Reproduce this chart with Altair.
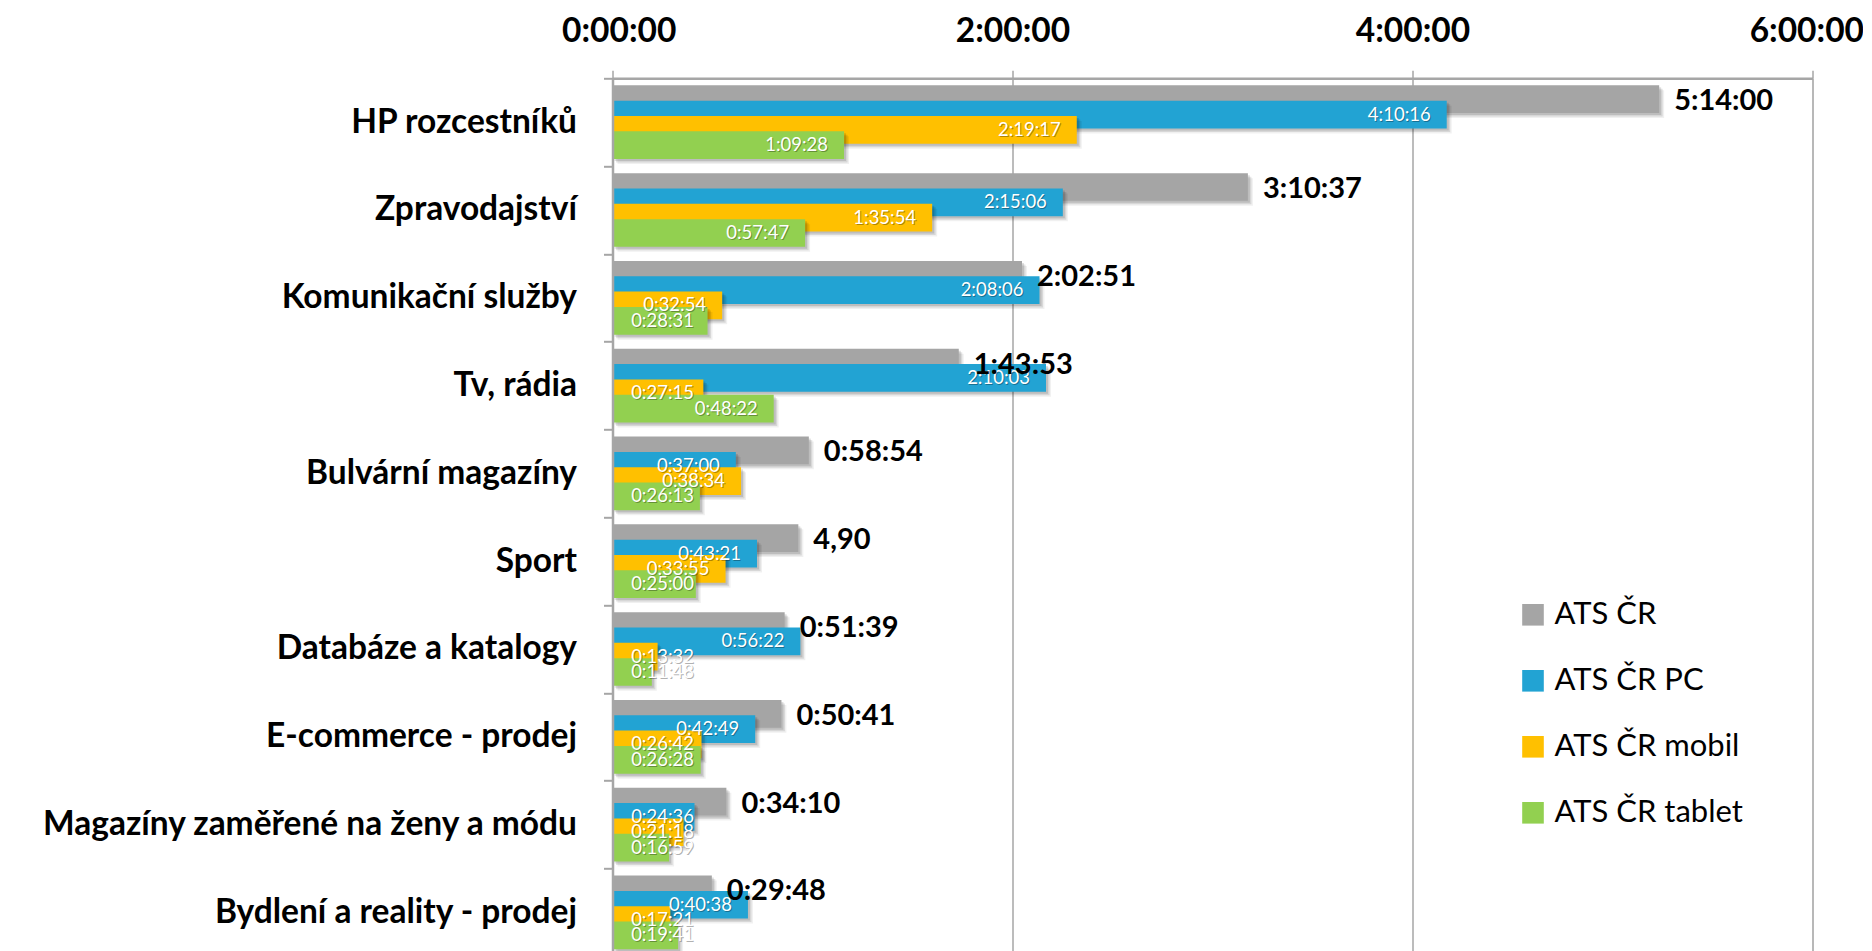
import altair as alt
import pandas as pd

categories = [
    "HP rozcestníků", "Zpravodajství", "Komunikační služby", "Tv, rádia",
    "Bulvární magazíny", "Sport", "Databáze a katalogy", "E-commerce - prodej",
    "Magazíny zaměřené na ženy a módu", "Bydlení a reality - prodej",
]
series = ["ATS ČR", "ATS ČR PC", "ATS ČR mobil", "ATS ČR tablet"]
colors = ["#A5A5A5", "#22A3D3", "#FFC000", "#92D050"]

ats_cr = ["5:14:00", "3:10:37", "2:02:51", "1:43:53", "0:58:54",
          "0:55:45", "0:51:39", "0:50:41", "0:34:10", "0:29:48"]
ats_cr_labels = ["5:14:00", "3:10:37", "2:02:51", "1:43:53", "0:58:54",
                 "4,90", "0:51:39", "0:50:41", "0:34:10", "0:29:48"]
ats_pc = ["4:10:16", "2:15:06", "2:08:06", "2:10:03", "0:37:00",
          "0:43:21", "0:56:22", "0:42:49", "0:24:36", "0:40:38"]
ats_mobil = ["2:19:17", "1:35:54", "0:32:54", "0:27:15", "0:38:34",
             "0:33:55", "0:13:32", "0:26:42", "0:21:18", "0:17:21"]
ats_tablet = ["1:09:28", "0:57:47", "0:28:31", "0:48:22", "0:26:13",
              "0:25:00", "0:11:48", "0:26:28", "0:16:59", "0:19:41"]

tick_values = [0, 120, 240, 360]


def to_min(s):
    h, m, sec = (int(p) for p in s.split(":"))
    return h * 60 + m + sec / 60


rows = []
for vals, labs, s in [(ats_cr, ats_cr_labels, series[0]), (ats_pc, ats_pc, series[1]),
                      (ats_mobil, ats_mobil, series[2]), (ats_tablet, ats_tablet, series[3])]:
    for c, v, l in zip(categories, vals, labs):
        rows.append({"category": c, "series": s, "value": to_min(v), "label": l})
df = pd.DataFrame(rows)

BAR_H = 27.7
offsets = [-23.0, -7.65, 7.65, 23.0]
FONT = "Lato"

x_axis = alt.Axis(
    orient="top", values=tick_values, labelExpr="floor(datum.value/60) + ':00:00'",
    labelFont=FONT, labelFontWeight="bold", labelFontSize=33.5, labelColor="black",
    labelBaseline="alphabetic", labelFlush=True, labelFlushOffset=51, labelPadding=29,
    tickSize=8, tickColor="#A6A6A6",
    tickWidth=1.5, domainColor="#A6A6A6", domainWidth=2.5, grid=True,
    gridColor="#A6A6A6", gridWidth=1.5, title=None,
)
y_axis = alt.Axis(
    labelFont=FONT, labelFontWeight="bold", labelFontSize=33.5, labelColor="black",
    labelPadding=27, labelLimit=800, tickSize=9, tickColor="#A6A6A6", tickWidth=2,
    tickBand="extent", domainColor="#A6A6A6", domainWidth=2.5, title=None, zindex=1,
)
x_scale = alt.Scale(domain=[0, 360], nice=False, zero=True)

X = alt.X("value:Q", scale=x_scale, axis=x_axis)
XL = alt.X("lx:Q", scale=x_scale, axis=x_axis)
Y = alt.Y("category:N", sort=categories, scale=alt.Scale(paddingInner=0, paddingOuter=0), axis=y_axis)
color = alt.Color(
    "series:N", scale=alt.Scale(domain=series, range=colors),
    legend=alt.Legend(
        title=None, orient="none", legendX=905, legendY=521, direction="vertical",
        symbolType="square", symbolSize=467, symbolStrokeWidth=0, labelFont=FONT,
        labelFontSize=31, labelColor="black", labelOffset=6, rowPadding=34, padding=0,
        labelLimit=500,
    ),
)

base = alt.Chart(df)
layers = []
for j, s in enumerate(series):
    sub = base.transform_filter(alt.datum.series == s)
    for d, op in [(2, 0.12), (3.5, 0.1), (5, 0.06)]:
        layers.append(sub.mark_bar(size=BAR_H, yOffset=offsets[j] + d, xOffset=d,
                                   color="black", opacity=op)
                      .encode(x=X, y=Y))
    layers.append(sub.mark_bar(size=BAR_H, yOffset=offsets[j]).encode(x=X, y=Y, color=color))

for j, s in enumerate(series[1:], start=1):
    sub = base.transform_filter(alt.datum.series == s).transform_calculate(
        lx="max(datum.value - 4.8, 24.45)")
    layers.append(sub.mark_text(align="right", baseline="middle", yOffset=offsets[j] + 1, dx=1,
                                font=FONT, fontSize=18.5, color="black", opacity=0.3)
                  .encode(x=XL, y=Y, text="label:N"))
    layers.append(sub.mark_text(align="right", baseline="middle", yOffset=offsets[j],
                                font=FONT, fontSize=18.5, color="white")
                  .encode(x=XL, y=Y, text="label:N"))

gray = base.transform_filter(alt.datum.series == series[0])
layers.append(gray.mark_text(align="left", baseline="middle", dx=15, yOffset=offsets[0] + 2,
                             font=FONT, fontSize=29, fontWeight="bold", color="black")
              .encode(x=X, y=Y, text="label:N"))

chart = alt.layer(*layers).properties(
    width=1200, height=878,
    padding={"left": 604.5, "top": 70.3, "right": 50, "bottom": 10},
    autosize=alt.AutoSizeParams(type="none"),
).configure_view(stroke=None).configure(background="white")

chart.save("out.html", embed_options={"renderer": "svg", "actions": False})
